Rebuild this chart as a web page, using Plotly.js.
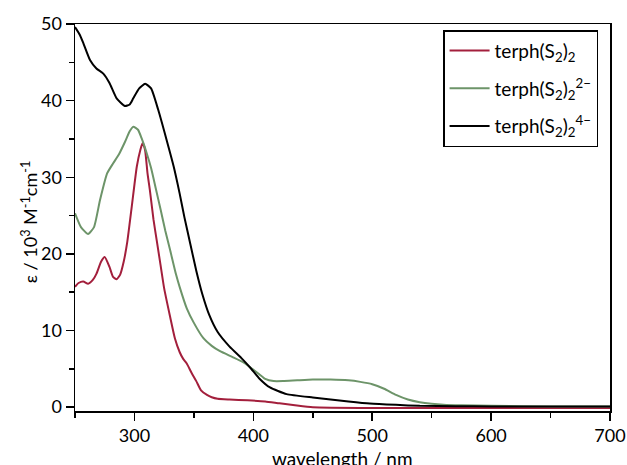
<!DOCTYPE html>
<html>
<head>
<meta charset="utf-8">
<script src="https://cdn.plot.ly/plotly-3.0.1.min.js"></script>
<style>html,body{margin:0;padding:0;background:#fff;}#chart{width:627px;height:465px;}</style>
</head>
<body>
<div id="chart"></div>
<script>
// terph(S2)2 (neutral) - red
const redX = [250,253,257,261,265,268,272,275,279,282,285,288,291,294,298,302,305,307,309,311,313,316,319,322,325,330,334,338,341,344,348,352,356,361,365,370,380,395,410,422,435,450,500,600,700];
const redY = [15.7,16.2,16.4,16.1,16.6,17.4,19.0,19.6,18.3,17.0,16.7,17.3,19.0,21.6,26.5,31.4,33.6,34.5,33.5,30.5,28.3,24.5,21.5,18.5,15.5,11.8,9.0,7.2,6.3,5.7,4.5,3.4,2.2,1.6,1.3,1.1,1.0,0.9,0.75,0.5,0.25,0.0,-0.1,-0.1,-0.1];
// terph(S2)2 2- - green
const greenX = [250,255,261,266,271,277,282,287,292,296,299,303,306,310,314,318,322,326,330,335,338,344,350,358,365,372,383,392,399,405,410,417,425,437,450,465,480,490,500,510,520,530,540,550,560,575,600,650,700];
const greenY = [25.3,23.5,22.6,23.5,27.0,30.5,31.8,33.0,34.6,36.0,36.6,36.2,35.1,33.3,31.2,28.5,25.8,23.0,20.5,17.3,15.7,12.9,11.0,9.0,8.0,7.3,6.5,5.8,5.0,4.3,3.7,3.4,3.4,3.5,3.6,3.6,3.5,3.3,3.0,2.4,1.6,1.0,0.65,0.45,0.33,0.25,0.18,0.1,0.1];
// terph(S2)2 4- - black
const blackX = [250,254,257,262.6,268,274,279,285,292,296,299,304,309,314,320,327,333,338,342,347,352,357,363,370,380,390,398,405,414,428,450,465,480,498,520,540,570,600,650,700];
const blackY = [49.6,48.6,47.5,45.3,44.2,43.5,42.3,40.3,39.3,39.5,40.3,41.6,42.2,41.6,38.8,34.9,31.4,27.9,24.8,21.3,17.8,14.8,12.0,9.8,7.9,6.4,5.05,3.75,2.57,1.7,1.26,1.0,0.75,0.48,0.3,0.17,0.12,0.1,0.08,0.08];

const names = ['terph(S<sub>2</sub>)<sub>2</sub>','terph(S<sub>2</sub>)<sub>2</sub><sup>2−</sup>','terph(S<sub>2</sub>)<sub>2</sub><sup>4−</sup>'];
const colors = ['#a31f3c','#6d9469','#000000'];
const xTicks = [300,400,500,600,700];
const yTicks = [0,10,20,30,40,50];
const xTitle = 'wavelength / nm';
const yTitle = 'ε / 10<sup>3</sup> M<sup>-1</sup>cm<sup>-1</sup>';

const series = [[redX,redY],[greenX,greenY],[blackX,blackY]];
const traces = series.map((s,i)=>({
  x:s[0], y:s[1], type:'scatter', mode:'lines', name:names[i],
  legendgroup:'g'+i,
  line:{color:colors[i], width:2, shape:'spline', smoothing:0.5}
}));

const font = 'Lato, "Open Sans", sans-serif';
const layout = {
  width:627, height:465,
  margin:{l:75, r:17, t:24, b:54},
  paper_bgcolor:'#fff', plot_bgcolor:'#fff',
  font:{family:font, color:'#000', size:18},
  showlegend:true,
  legend:{x:0.688, y:0.984, xanchor:'left', yanchor:'top',
    bordercolor:'#000', borderwidth:1.5, bgcolor:'rgba(255,255,255,0)',
    font:{family:font, size:19, color:'#000'}, traceorder:'grouped', tracegroupgap:10,
    itemwidth:40},
  xaxis:{range:[250,700], tickvals:xTicks, ticks:'outside', ticklen:8, tickwidth:1.5,
    tickcolor:'#000', showline:true, linecolor:'#000', linewidth:1.5, mirror:true,
    showgrid:false, zeroline:false, automargin:false,
    minor:{dtick:50, tick0:250, ticks:'outside', ticklen:5, tickwidth:1.5, tickcolor:'#000', showgrid:false},
    tickfont:{family:font, size:18}},
  yaxis:{range:[-0.5,50], tickvals:yTicks, ticks:'outside', ticklen:8, tickwidth:1.5,
    tickcolor:'#000', showline:true, linecolor:'#000', linewidth:1.5, mirror:true,
    showgrid:false, zeroline:false, automargin:false,
    minor:{dtick:5, tick0:0, ticks:'outside', ticklen:5, tickwidth:1.5, tickcolor:'#000', showgrid:false},
    tickfont:{family:font, size:18}},
  annotations:[
    {text:xTitle, xref:'paper', yref:'paper', x:0.5, y:-0.122, xanchor:'center', yanchor:'middle',
     showarrow:false, font:{family:font, size:19, color:'#000'}},
    {text:yTitle, xref:'paper', yref:'paper', x:-0.084, y:0.488, xanchor:'center', yanchor:'middle',
     textangle:-90, showarrow:false, font:{family:font, size:18, color:'#000'}}
  ]
};
Plotly.newPlot('chart', traces, layout, {displayModeBar:false, staticPlot:true});
</script>
</body>
</html>
